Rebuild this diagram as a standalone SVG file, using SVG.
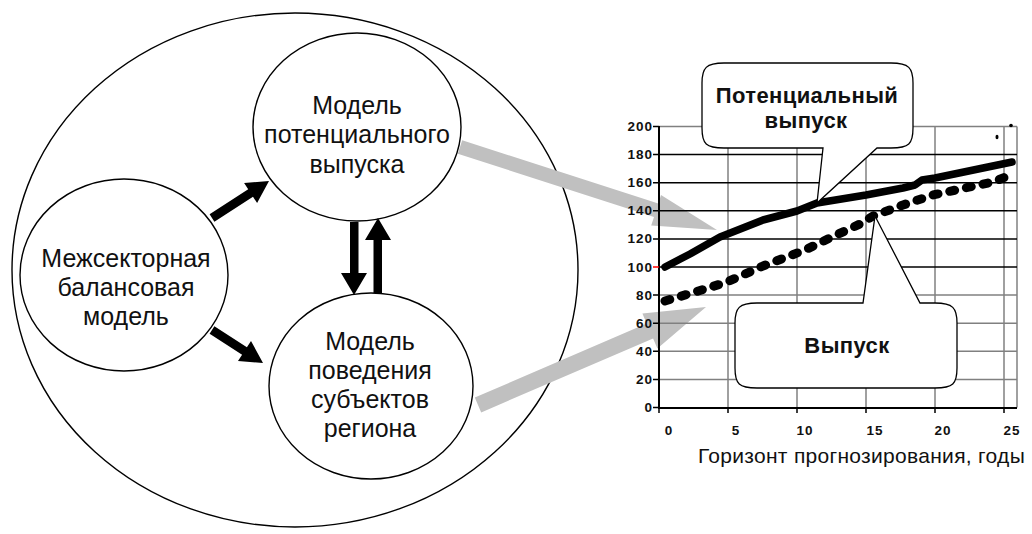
<svg xmlns="http://www.w3.org/2000/svg" width="1032" height="534" viewBox="0 0 1032 534">
  <style>
    .node { fill: #ffffff; stroke: #000000; stroke-width: 1.4; }
    .ntext { font-family: "Liberation Sans", Arial, sans-serif; font-size: 25px; fill: #111111; text-anchor: middle; }
    .flow { fill: #c0c0c0; stroke: none; }
    .link { fill: #000000; stroke: none; }
    .grid-dark { stroke: #000000; stroke-width: 1.5; }
    .grid-light { stroke: #808080; stroke-width: 1.5; }
    .axis { stroke: #000000; stroke-width: 2; fill: none; }
    .tick { font-family: "Liberation Sans", Arial, sans-serif; font-size: 13.5px; font-weight: bold; fill: #111111; letter-spacing: 1px; }
    .title { font-family: "Liberation Sans", Arial, sans-serif; font-size: 21px; fill: #111111; letter-spacing: 0.3px; }
    .callout { fill: #ffffff; stroke: #000000; stroke-width: 1.3; }
    .ctext { font-family: "Liberation Sans", Arial, sans-serif; font-size: 22px; font-weight: bold; fill: #111111; text-anchor: middle; letter-spacing: 0.4px; }
  </style>

  <!-- outer region boundary -->
  <g id="region">
    <ellipse cx="295" cy="270" rx="283" ry="257" fill="none" stroke="#000000" stroke-width="1.4"/>
  </g>

  <!-- model nodes -->
  <g id="node-balance">
    <ellipse class="node" cx="124" cy="275" rx="104" ry="96"/>
    <text class="ntext" x="126" y="267">Межсекторная</text>
    <text class="ntext" x="126" y="296">балансовая</text>
    <text class="ntext" x="126" y="325">модель</text>
  </g>
  <g id="node-potential">
    <ellipse class="node" cx="357" cy="127" rx="104" ry="94"/>
    <text class="ntext" x="357" y="114">Модель</text>
    <text class="ntext" x="357" y="143">потенциального</text>
    <text class="ntext" x="357" y="173">выпуска</text>
  </g>
  <g id="node-behaviour">
    <ellipse class="node" cx="371" cy="386" rx="102" ry="93"/>
    <text class="ntext" x="370" y="350">Модель</text>
    <text class="ntext" x="370" y="379">поведения</text>
    <text class="ntext" x="370" y="408">субъектов</text>
    <text class="ntext" x="370" y="437">региона</text>
  </g>

  <!-- connectors -->
  <g id="connectors">
    <polygon class="link" points="209.6,214.2 248.2,189.2 244.1,182.9 269,181 257.1,203.1 253.0,196.8 214.4,221.8"/>
    <polygon class="link" points="214.4,326.2 246.9,347.2 251.0,340.9 263,363 238.0,361.1 242.1,354.8 209.6,333.8"/>
    <polygon class="link" points="350,222 358.5,222 358.5,273 367,273 354,295 341,273 350,273"/>
    <polygon class="link" points="373.5,293 382,293 382,240 391,240 378,218 365,240 373.5,240"/>
    <polygon class="flow" points="462.2,140.3 658.3,203.6 661.0,195.1 717,230 651.2,225.5 654.0,217.0 457.8,153.7"/>
    <polygon class="flow" points="474.8,397.6 646.7,323.6 642.4,313.5 706,307 657.4,348.5 653.1,338.4 481.2,412.4"/>
  </g>

  <!-- forecast chart -->
  <g id="chart">
    <g id="grid">
      <line class="grid-light" x1="728" y1="126.5" x2="728" y2="407.5"/>
      <line class="grid-light" x1="797" y1="126.5" x2="797" y2="407.5"/>
      <line class="grid-light" x1="866" y1="126.5" x2="866" y2="407.5"/>
      <line class="grid-light" x1="935" y1="126.5" x2="935" y2="407.5"/>
      <line class="grid-light" x1="1004" y1="126.5" x2="1004" y2="407.5"/>
      <line class="grid-light" x1="1017" y1="126.5" x2="1017" y2="407.5"/>
      <line class="grid-light" x1="659" y1="379.4" x2="1017" y2="379.4"/>
      <line class="grid-light" x1="659" y1="351.3" x2="1017" y2="351.3"/>
      <line class="grid-light" x1="659" y1="323.2" x2="1017" y2="323.2"/>
      <line class="grid-light" x1="659" y1="295.1" x2="1017" y2="295.1" stroke="#555555"/>
      <line class="grid-dark" x1="659" y1="267" x2="1017" y2="267"/>
      <line class="grid-dark" x1="659" y1="238.9" x2="1017" y2="238.9"/>
      <line class="grid-dark" x1="659" y1="210.8" x2="1017" y2="210.8"/>
      <line class="grid-dark" x1="659" y1="182.7" x2="1017" y2="182.7"/>
      <line class="grid-dark" x1="659" y1="154.6" x2="1017" y2="154.6"/>
      <line class="grid-light" x1="659" y1="126.5" x2="1017" y2="126.5" stroke="#444444"/>
    </g>
    <g id="axes">
      <path class="axis" d="M659,126 V408 H1017"/>
      <path stroke="#000000" stroke-width="1.5" d="M653,126.5 H659 M653,154.6 H659 M653,182.7 H659 M653,210.8 H659 M653,238.9 H659 M653,295.1 H659 M653,323.2 H659 M653,351.3 H659 M653,379.4 H659 M653,407.5 H659 M659,408 V413 M728,408 V413 M797,408 V413 M866,408 V413 M935,408 V413 M1004,408 V413"/>
      <line x1="653" y1="267" x2="659" y2="267" stroke="#ff0000" stroke-width="1.5"/>
    </g>
    <g id="y-labels" text-anchor="end">
      <text class="tick" x="653" y="131">200</text>
      <text class="tick" x="653" y="159">180</text>
      <text class="tick" x="653" y="187">160</text>
      <text class="tick" x="653" y="215">140</text>
      <text class="tick" x="653" y="243">120</text>
      <text class="tick" x="653" y="271.5">100</text>
      <text class="tick" x="653" y="299.5">80</text>
      <text class="tick" x="653" y="327.5">60</text>
      <text class="tick" x="653" y="355.5">40</text>
      <text class="tick" x="653" y="383.5">20</text>
      <text class="tick" x="653" y="412">0</text>
    </g>
    <g id="x-labels" text-anchor="middle">
      <text class="tick" x="669" y="435">0</text>
      <text class="tick" x="736" y="435">5</text>
      <text class="tick" x="805" y="435">10</text>
      <text class="tick" x="875" y="435">15</text>
      <text class="tick" x="943" y="435">20</text>
      <text class="tick" x="1012" y="435">25</text>
    </g>
    <text class="title" x="698" y="463">Горизонт прогнозирования, годы</text>

    <!-- series: potential output (solid) and output (dashed) -->
    <path d="M665,267 L690,254 L720,237 L763,220 L797,211 L817,203 L866,195 L903,188 L915,185 L922,180 L935,178 L1012,162" fill="none" stroke="#000000" stroke-width="7.5" stroke-linejoin="round" stroke-linecap="round"/>
    <path d="M665,301 L695,292 L727,282 L763,266 L805,250 L832,237 L860,224 L873,216 L903,205 L933,195 L965,188 L993,182 L1008,176" fill="none" stroke="#000000" stroke-width="9" stroke-dasharray="5 12" stroke-linecap="round" stroke-linejoin="round"/>
    <ellipse cx="997" cy="137" rx="1.5" ry="2.2" fill="#000000"/>
    <circle cx="1011" cy="125.5" r="1.8" fill="#000000"/>
  </g>

  <!-- callouts -->
  <g id="callout-potential">
    <path class="callout" d="M724,63 H891 C909,63 913,68 913,83 V128 C913,144 909,148 891,148 H877 L817,203 L823,148 H724 C706,148 702,144 702,128 V83 C702,68 706,63 724,63 Z"/>
    <text class="ctext" x="807" y="103">Потенциальный</text>
    <text class="ctext" x="806" y="128">выпуск</text>
  </g>
  <g id="callout-output">
    <path class="callout" d="M757,303 H863 L875,216 L920,303 H935 C953,303 957,308 957,323 V368 C957,384 953,388 935,388 H757 C739,388 735,384 735,368 V323 C735,308 739,303 757,303 Z"/>
    <text class="ctext" x="847" y="353">Выпуск</text>
  </g>
</svg>
